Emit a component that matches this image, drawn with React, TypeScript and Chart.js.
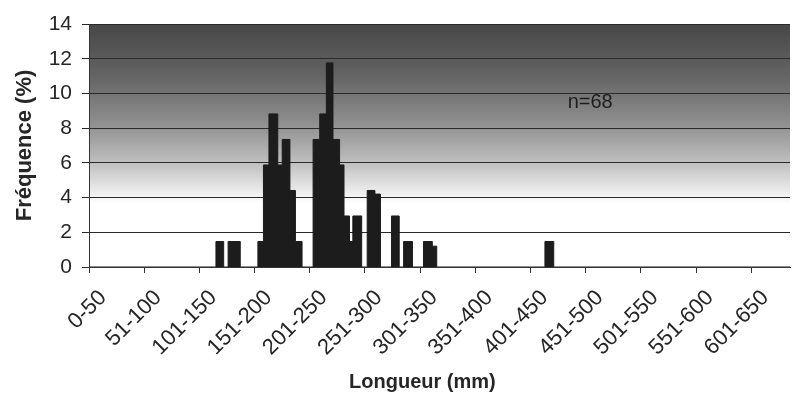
import React, { useEffect, useRef } from 'react';
import { Chart, registerables } from 'chart.js';

Chart.register(...registerables);

// Histogram of lengths: each value holds from its edge (mm) to the next edge
const binEdges = [0, 115, 122, 126, 137, 153, 158, 163, 171, 175, 182, 187, 193, 203, 209, 215, 221, 227, 231, 236, 239, 247, 252, 259, 264, 274, 281, 285, 293, 303, 311, 315, 413, 421, 635];
const binFreq = [0, 1.47, 0, 1.47, 0, 1.47, 5.88, 8.82, 5.88, 7.35, 4.41, 1.47, 0, 7.35, 8.82, 11.76, 7.35, 5.88, 2.94, 1.47, 2.94, 0, 4.41, 4.2, 0, 2.94, 0, 1.47, 0, 1.47, 1.2, 0, 1.47, 0, 0];

const classLabels = ['0-50', '51-100', '101-150', '151-200', '201-250', '251-300', '301-350', '351-400', '401-450', '451-500', '501-550', '551-600', '601-650'];
const yTicks = [0, 2, 4, 6, 8, 10, 12, 14];
const annotationText = 'n=68';
const annotationAt = { x: 454, y: 9.45 };
const xTitleText = 'Longueur (mm)';
const xTitleAt = 302; // mm position of the title centre

const FONT = "'Liberation Sans', Arial, sans-serif";
const TEXT = '#262626';

const gradientPlugin = {
  id: 'bgGradient',
  beforeDraw(chart: any) {
    const { ctx, chartArea } = chart;
    if (!chartArea) return;
    const g = ctx.createLinearGradient(0, chartArea.top, 0, chartArea.bottom);
    g.addColorStop(0, '#474747');
    g.addColorStop(0.22, '#656565');
    g.addColorStop(0.42, '#929292');
    g.addColorStop(0.58, '#c2c2c2');
    g.addColorStop(0.68, '#e9e9e9');
    g.addColorStop(0.74, '#ffffff');
    g.addColorStop(1, '#ffffff');
    ctx.save();
    ctx.fillStyle = g;
    ctx.fillRect(chartArea.left, chartArea.top, chartArea.right - chartArea.left, chartArea.bottom - chartArea.top);
    ctx.restore();
  },
  afterDraw(chart: any) {
    const { ctx } = chart;
    const xs = chart.scales.x;
    const ys = chart.scales.y;
    ctx.save();
    ctx.font = `20px ${FONT}`;
    ctx.fillStyle = '#1e1e1e';
    ctx.textAlign = 'center';
    ctx.textBaseline = 'middle';
    ctx.fillText(annotationText, xs.getPixelForValue(annotationAt.x), ys.getPixelForValue(annotationAt.y));
    ctx.font = `bold 20px ${FONT}`;
    ctx.fillStyle = TEXT;
    ctx.fillText(xTitleText, xs.getPixelForValue(xTitleAt), xs.bottom - 18);
    ctx.restore();
  },
};

export default function App() {
  const ref = useRef<HTMLCanvasElement | null>(null);

  useEffect(() => {
    document.body.style.margin = '0';
    const canvas = ref.current;
    if (!canvas) return;
    const points = binEdges.map((e, i) => ({ x: e, y: binFreq[i] }));
    const chart = new Chart(canvas, {
      type: 'line',
      data: {
        datasets: [
          {
            data: points,
            stepped: true,
            fill: 'origin',
            backgroundColor: '#1c1c1c',
            borderColor: '#1c1c1c',
            borderWidth: 1,
            pointRadius: 0,
            tension: 0,
          },
        ],
      },
      options: {
        animation: false,
        responsive: false,
        devicePixelRatio: 1,
        layout: { padding: { left: 8, right: 7, top: 24, bottom: 0 } },
        plugins: { legend: { display: false }, tooltip: { enabled: false } },
        scales: {
          x: {
            type: 'linear',
            min: 0,
            max: 635,
            afterFit: (s: any) => { s.height = 133; },
            ticks: {
              stepSize: 50,
              includeBounds: false,
              autoSkip: false,
              minRotation: 45,
              maxRotation: 45,
              labelOffset: 14,
              padding: 12,
              color: TEXT,
              font: { family: FONT, size: 22 },
              callback: (v: any) => {
                const idx = Math.round(Number(v) / 50);
                return Number(v) % 50 === 0 && classLabels[idx] ? classLabels[idx] : '';
              },
            },
            grid: { drawOnChartArea: false, drawTicks: true, tickLength: 6, color: '#333' },
            border: { color: '#333', width: 1 },
          },
          y: {
            min: 0,
            max: 14,
            afterFit: (s: any) => { s.width = 81; },
            afterBuildTicks: (s: any) => { s.ticks = yTicks.map((v) => ({ value: v })); },
            ticks: {
              color: TEXT,
              font: { family: FONT, size: 21 },
              padding: 10,
            },
            grid: { color: '#2a2a2a', lineWidth: 1, tickLength: 7 },
            border: { color: '#333', width: 1 },
            title: {
              display: true,
              text: 'Fréquence (%)',
              color: TEXT,
              font: { family: FONT, size: 22, weight: 'bold' },
              padding: { top: 4, bottom: 4 },
            },
          },
        },
      },
      plugins: [gradientPlugin],
    });
    return () => chart.destroy();
  }, []);

  return (
    <div style={{ width: 797, height: 400 }}>
      <canvas ref={ref} width={797} height={400} />
    </div>
  );
}
